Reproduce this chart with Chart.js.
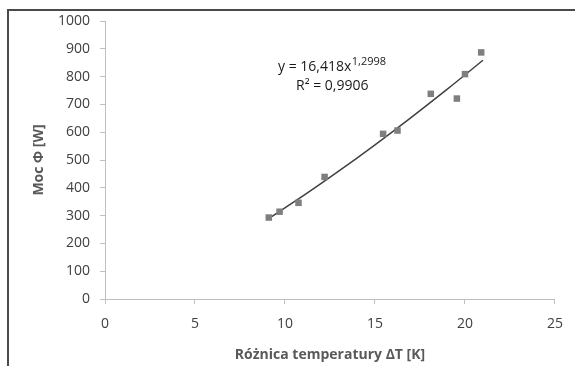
<!DOCTYPE html>
<html>
<head>
<meta charset="utf-8">
<script src="https://cdn.jsdelivr.net/npm/chart.js@4/dist/chart.umd.min.js"></script>
<style>
html,body{margin:0;padding:0;background:#fff;}
#wrap{position:relative;width:575px;height:366px;overflow:hidden;}
#frame{position:absolute;left:7px;top:9px;width:600px;height:400px;border-top:2px solid #4a4a4a;border-left:2px solid #4a4a4a;pointer-events:none;}
canvas{position:absolute;left:0;top:0;}
</style>
</head>
<body>
<div id="wrap">
<canvas id="c" width="575" height="366"></canvas>
<div id="frame"></div>
</div>
<script>
// Measured points: temperature difference ΔT [K] and power Φ [W]
const deltaT = [9.1, 9.7, 10.75, 12.2, 15.45, 16.25, 18.1, 19.55, 20.0, 20.9];
const power  = [293, 314, 346, 439, 594, 606, 738, 721, 809, 887];
// Power-law trendline shown in the chart: y = 16,418 x^1,2998
const trendX = [9, 11, 13, 15, 17, 19, 21];
const trendY = [285.7, 370.6, 460.5, 554.6, 652.6, 754.1, 858.9];
const xTicks = [0, 5, 10, 15, 20, 25];
const yTicks = [0, 100, 200, 300, 400, 500, 600, 700, 800, 900, 1000];
const eqText = ['y = 16,418x', '1,2998', 'R² = 0,9906'];

const FONT = '"Open Sans", Lato, sans-serif';

const annot = {
  id: 'annot',
  afterDraw(chart) {
    const ctx = chart.ctx;
    ctx.save();
    ctx.fillStyle = '#1a1a1a';
    ctx.textBaseline = 'middle';
    ctx.font = '14px ' + FONT;
    const a = chart.chartArea;
    const x0 = a.left + 173, y0 = a.top + 46;
    ctx.textAlign = 'left';
    ctx.fillText(eqText[0], x0, y0);
    const w = ctx.measureText(eqText[0]).width;
    ctx.font = '11px ' + FONT;
    ctx.fillText(eqText[1], x0 + w + 0.5, y0 - 5);
    ctx.font = '14px ' + FONT;
    ctx.fillText(eqText[2], x0 + 18, y0 + 19);
    ctx.restore();
  }
};

new Chart(document.getElementById('c'), {
  type: 'scatter',
  data: {
    datasets: [
      {
        type: 'line',
        data: trendX.map((x, i) => ({x, y: trendY[i]})),
        borderColor: '#404040',
        borderWidth: 1.5,
        pointRadius: 0,
        fill: false,
        tension: 0.4,
        cubicInterpolationMode: 'monotone',
        order: 1
      },
      {
        data: deltaT.map((x, i) => ({x, y: power[i]})),
        backgroundColor: '#7f7f7f',
        borderColor: '#7f7f7f',
        borderWidth: 0,
        pointStyle: 'rect',
        pointRadius: 4.6,
        order: 0
      }
    ]
  },
  options: {
    responsive: false,
    animation: false,
    devicePixelRatio: 1,
    layout: {padding: {left: 0, top: 21, right: 19, bottom: 0}},
    plugins: {legend: {display: false}, tooltip: {enabled: false}},
    scales: {
      x: {
        type: 'linear',
        min: 0, max: 25,
        afterBuildTicks(s) { s.ticks = xTicks.map(v => ({value: v})); },
        afterFit(s) { s.height = 67; },
        border: {display: true, color: '#bfbfbf', width: 1},
        grid: {drawOnChartArea: false, drawTicks: true, tickLength: 5, color: '#bfbfbf'},
        ticks: {color: '#404040', font: {family: FONT, size: 14}, padding: 12, callback: v => String(v)},
        title: {display: true, text: 'Różnica temperatury ΔT [K]', color: '#595959',
                font: {family: FONT, size: 14, weight: 'bold'}, padding: {top: 4, bottom: 3}}
      },
      y: {
        type: 'linear',
        min: 0, max: 1000,
        afterBuildTicks(s) { s.ticks = yTicks.map(v => ({value: v})); },
        afterFit(s) { s.width = 105; },
        border: {display: true, color: '#bfbfbf', width: 1},
        grid: {drawOnChartArea: false, drawTicks: true, tickLength: 5, color: '#bfbfbf'},
        ticks: {color: '#404040', font: {family: FONT, size: 14}, padding: 10, callback: v => String(v)},
        title: {display: true, text: 'Moc Φ [W]', color: '#595959',
                font: {family: FONT, size: 14, weight: 'bold'}, padding: {top: 31, bottom: 0}}
      }
    }
  },
  plugins: [annot]
});
</script>
</body>
</html>
